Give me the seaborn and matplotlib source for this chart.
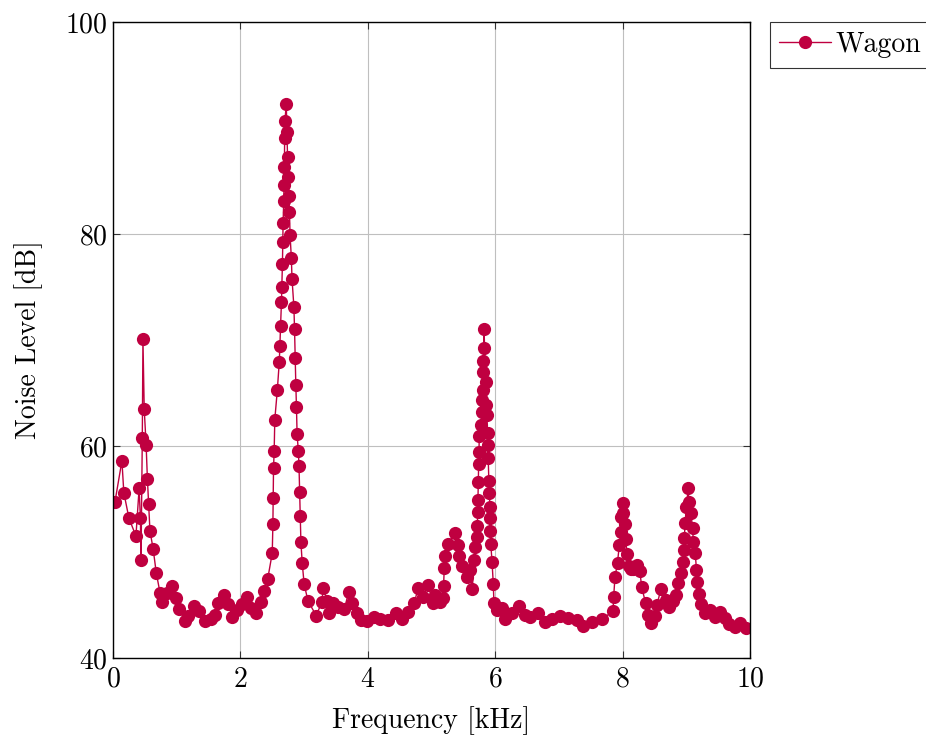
import matplotlib
matplotlib.use("Agg")
import matplotlib.pyplot as plt
import seaborn as sns
import pandas as pd

freq = [0.03, 0.14, 0.17, 0.25, 0.36, 0.41, 0.43, 0.44, 0.46, 0.47, 0.49, 0.52, 0.54, 0.56, 0.58,
        0.63, 0.68, 0.74, 0.77, 0.85, 0.93, 0.99, 1.04, 1.13, 1.18, 1.27, 1.35, 1.44, 1.54, 1.60,
        1.65, 1.74, 1.81, 1.87, 1.95, 2.03, 2.10, 2.17, 2.24, 2.32, 2.37, 2.43, 2.50, 2.51, 2.515,
        2.52, 2.53, 2.54, 2.58, 2.61, 2.62, 2.63, 2.645, 2.65, 2.66, 2.665, 2.67, 2.68, 2.685, 2.69,
        2.695, 2.70, 2.72, 2.73, 2.74, 2.75, 2.76, 2.77, 2.78, 2.80, 2.81, 2.84, 2.85, 2.86, 2.87,
        2.88, 2.89, 2.91, 2.92, 2.93, 2.94, 2.95, 2.97, 3.00, 3.06, 3.19, 3.28, 3.30, 3.36, 3.39,
        3.45, 3.53, 3.63, 3.70, 3.75, 3.83, 3.89, 3.99, 4.10, 4.19, 4.32, 4.44, 4.54, 4.63, 4.73,
        4.79, 4.87, 4.95, 5.02, 5.05, 5.13, 5.18, 5.19, 5.20, 5.21, 5.26, 5.37, 5.42, 5.43, 5.48,
        5.56, 5.60, 5.64, 5.67, 5.68, 5.71, 5.72, 5.725, 5.73, 5.735, 5.74, 5.745, 5.75, 5.78, 5.79,
        5.80, 5.805, 5.81, 5.815, 5.82, 5.825, 5.85, 5.86, 5.87, 5.88, 5.885, 5.89, 5.90, 5.91, 5.915,
        5.92, 5.925, 5.93, 5.95, 5.97, 5.98, 6.03, 6.11, 6.15, 6.26, 6.37, 6.47, 6.55, 6.67, 6.78,
        6.89, 7.02, 7.14, 7.28, 7.38, 7.52, 7.68, 7.85, 7.86, 7.88, 7.92, 7.95, 7.97, 7.98, 8.00,
        8.01, 8.03, 8.05, 8.07, 8.10, 8.13, 8.16, 8.23, 8.27, 8.30, 8.36, 8.40, 8.45, 8.51, 8.54,
        8.60, 8.68, 8.73, 8.79, 8.84, 8.87, 8.92, 8.95, 8.96, 8.97, 8.98, 9.00, 9.03, 9.04, 9.07,
        9.10, 9.11, 9.14, 9.16, 9.17, 9.20, 9.23, 9.29, 9.37, 9.45, 9.53, 9.61, 9.67, 9.76, 9.84,
        9.94]
level = [54.7, 58.6, 55.6, 53.2, 51.5, 56.0, 53.2, 49.2, 60.8, 70.1, 63.5, 60.1, 56.9, 54.5, 52.0,
         50.3, 48.0, 46.1, 45.3, 46.1, 46.8, 45.7, 44.6, 43.5, 44.0, 44.9, 44.4, 43.5, 43.7, 44.1,
         45.2, 45.9, 45.1, 43.9, 44.5, 45.1, 45.8, 44.7, 44.2, 45.3, 46.3, 47.5, 49.9, 52.6, 55.1,
         57.9, 59.5, 62.5, 65.3, 67.9, 69.4, 71.3, 73.6, 75.0, 77.2, 79.2, 81.0, 83.1, 84.6, 86.3,
         89.1, 90.7, 92.3, 89.6, 87.3, 85.4, 83.6, 82.1, 79.9, 77.7, 75.8, 73.1, 71.0, 68.3, 65.8,
         63.7, 61.1, 59.5, 58.1, 55.7, 53.4, 50.9, 49.0, 47.0, 45.4, 44.0, 45.3, 46.6, 45.4, 44.2,
         45.2, 44.8, 44.6, 46.2, 45.2, 44.2, 43.6, 43.5, 43.9, 43.7, 43.6, 44.2, 43.7, 44.3, 45.2,
         46.6, 45.8, 46.9, 45.2, 45.9, 45.3, 45.7, 46.8, 48.5, 49.6, 50.8, 51.8, 50.7, 49.6, 48.7,
         47.6, 48.3, 46.5, 49.2, 50.5, 51.4, 52.5, 53.8, 54.9, 56.6, 58.3, 59.4, 60.9, 62.0, 63.2,
         64.3, 65.3, 67.0, 68.0, 69.2, 71.0, 66.0, 63.9, 62.9, 61.2, 60.1, 58.9, 56.7, 55.6, 54.2,
         53.2, 52.0, 50.8, 49.1, 47.0, 45.2, 44.5, 44.7, 43.7, 44.2, 44.9, 44.1, 43.9, 44.2, 43.4,
         43.7, 44.0, 43.8, 43.6, 43.0, 43.4, 43.7, 44.4, 45.8, 47.6, 49.0, 50.7, 51.9, 53.3, 54.6,
         53.7, 52.6, 51.2, 49.8, 48.7, 48.4, 48.4, 48.8, 48.2, 46.7, 45.2, 44.1, 43.3, 44.0, 45.0,
         46.5, 45.5, 44.8, 45.4, 45.9, 47.1, 48.0, 49.1, 50.2, 51.3, 52.7, 54.2, 56.0, 54.7, 53.7,
         52.3, 50.9, 49.9, 48.3, 47.2, 46.0, 45.1, 44.2, 44.5, 43.9, 44.3, 43.8, 43.2, 42.9, 43.3,
         42.8]
series_name = "Wagon"
x_ticks = [0, 2, 4, 6, 8, 10]
y_ticks = [40, 60, 80, 100]

df = pd.DataFrame({"Frequency": freq, "Level": level, "Series": series_name})

sns.set_style("whitegrid")
plt.rcParams["font.family"] = ["cmr10", "DejaVu Serif"]
plt.rcParams["axes.formatter.use_mathtext"] = True
plt.rcParams["mathtext.fontset"] = "cm"
plt.rcParams["text.color"] = "black"
plt.rcParams["axes.labelcolor"] = "black"

fig = plt.figure(figsize=(9.26, 7.36), dpi=100)
ax = fig.add_axes([113 / 926, 1 - 658 / 736, (750 - 113) / 926, (658 - 22) / 736])

color = "#BF0040"
sns.lineplot(data=df, x="Frequency", y="Level", hue="Series", palette=[color],
             marker="o", markersize=9.5, markeredgewidth=0, linewidth=1.0,
             sort=False, ax=ax)

ax.set_xlim(0, 10)
ax.set_ylim(40, 100)
ax.set_xticks(x_ticks)
ax.set_yticks(y_ticks)
ax.grid(True, color="#BFBFBF", linewidth=0.8)
for s in ax.spines.values():
    s.set_color("black")
    s.set_linewidth(1.0)
ax.tick_params(direction="in", length=5, width=0.8, colors="#333333",
               labelcolor="black", labelsize=20, top=True, right=True,
               bottom=True, left=True)
ax.tick_params(axis="x", pad=6)
ax.tick_params(axis="y", pad=4)
ax.set_xlabel("Frequency [kHz]", fontsize=20, labelpad=10, color="black")
ax.set_ylabel("Noise Level [dB]", fontsize=20, labelpad=16, color="black")

leg = ax.legend(loc="upper left", bbox_to_anchor=(1.031, 1.0), frameon=True,
                fontsize=20, fancybox=False, handlelength=1.85, borderpad=0.35,
                handletextpad=0.15, borderaxespad=0)
leg.get_frame().set_edgecolor("black")
leg.get_frame().set_linewidth(0.8)
for t in leg.get_texts():
    t.set_color("black")

fig.savefig("out.png", dpi=100)
